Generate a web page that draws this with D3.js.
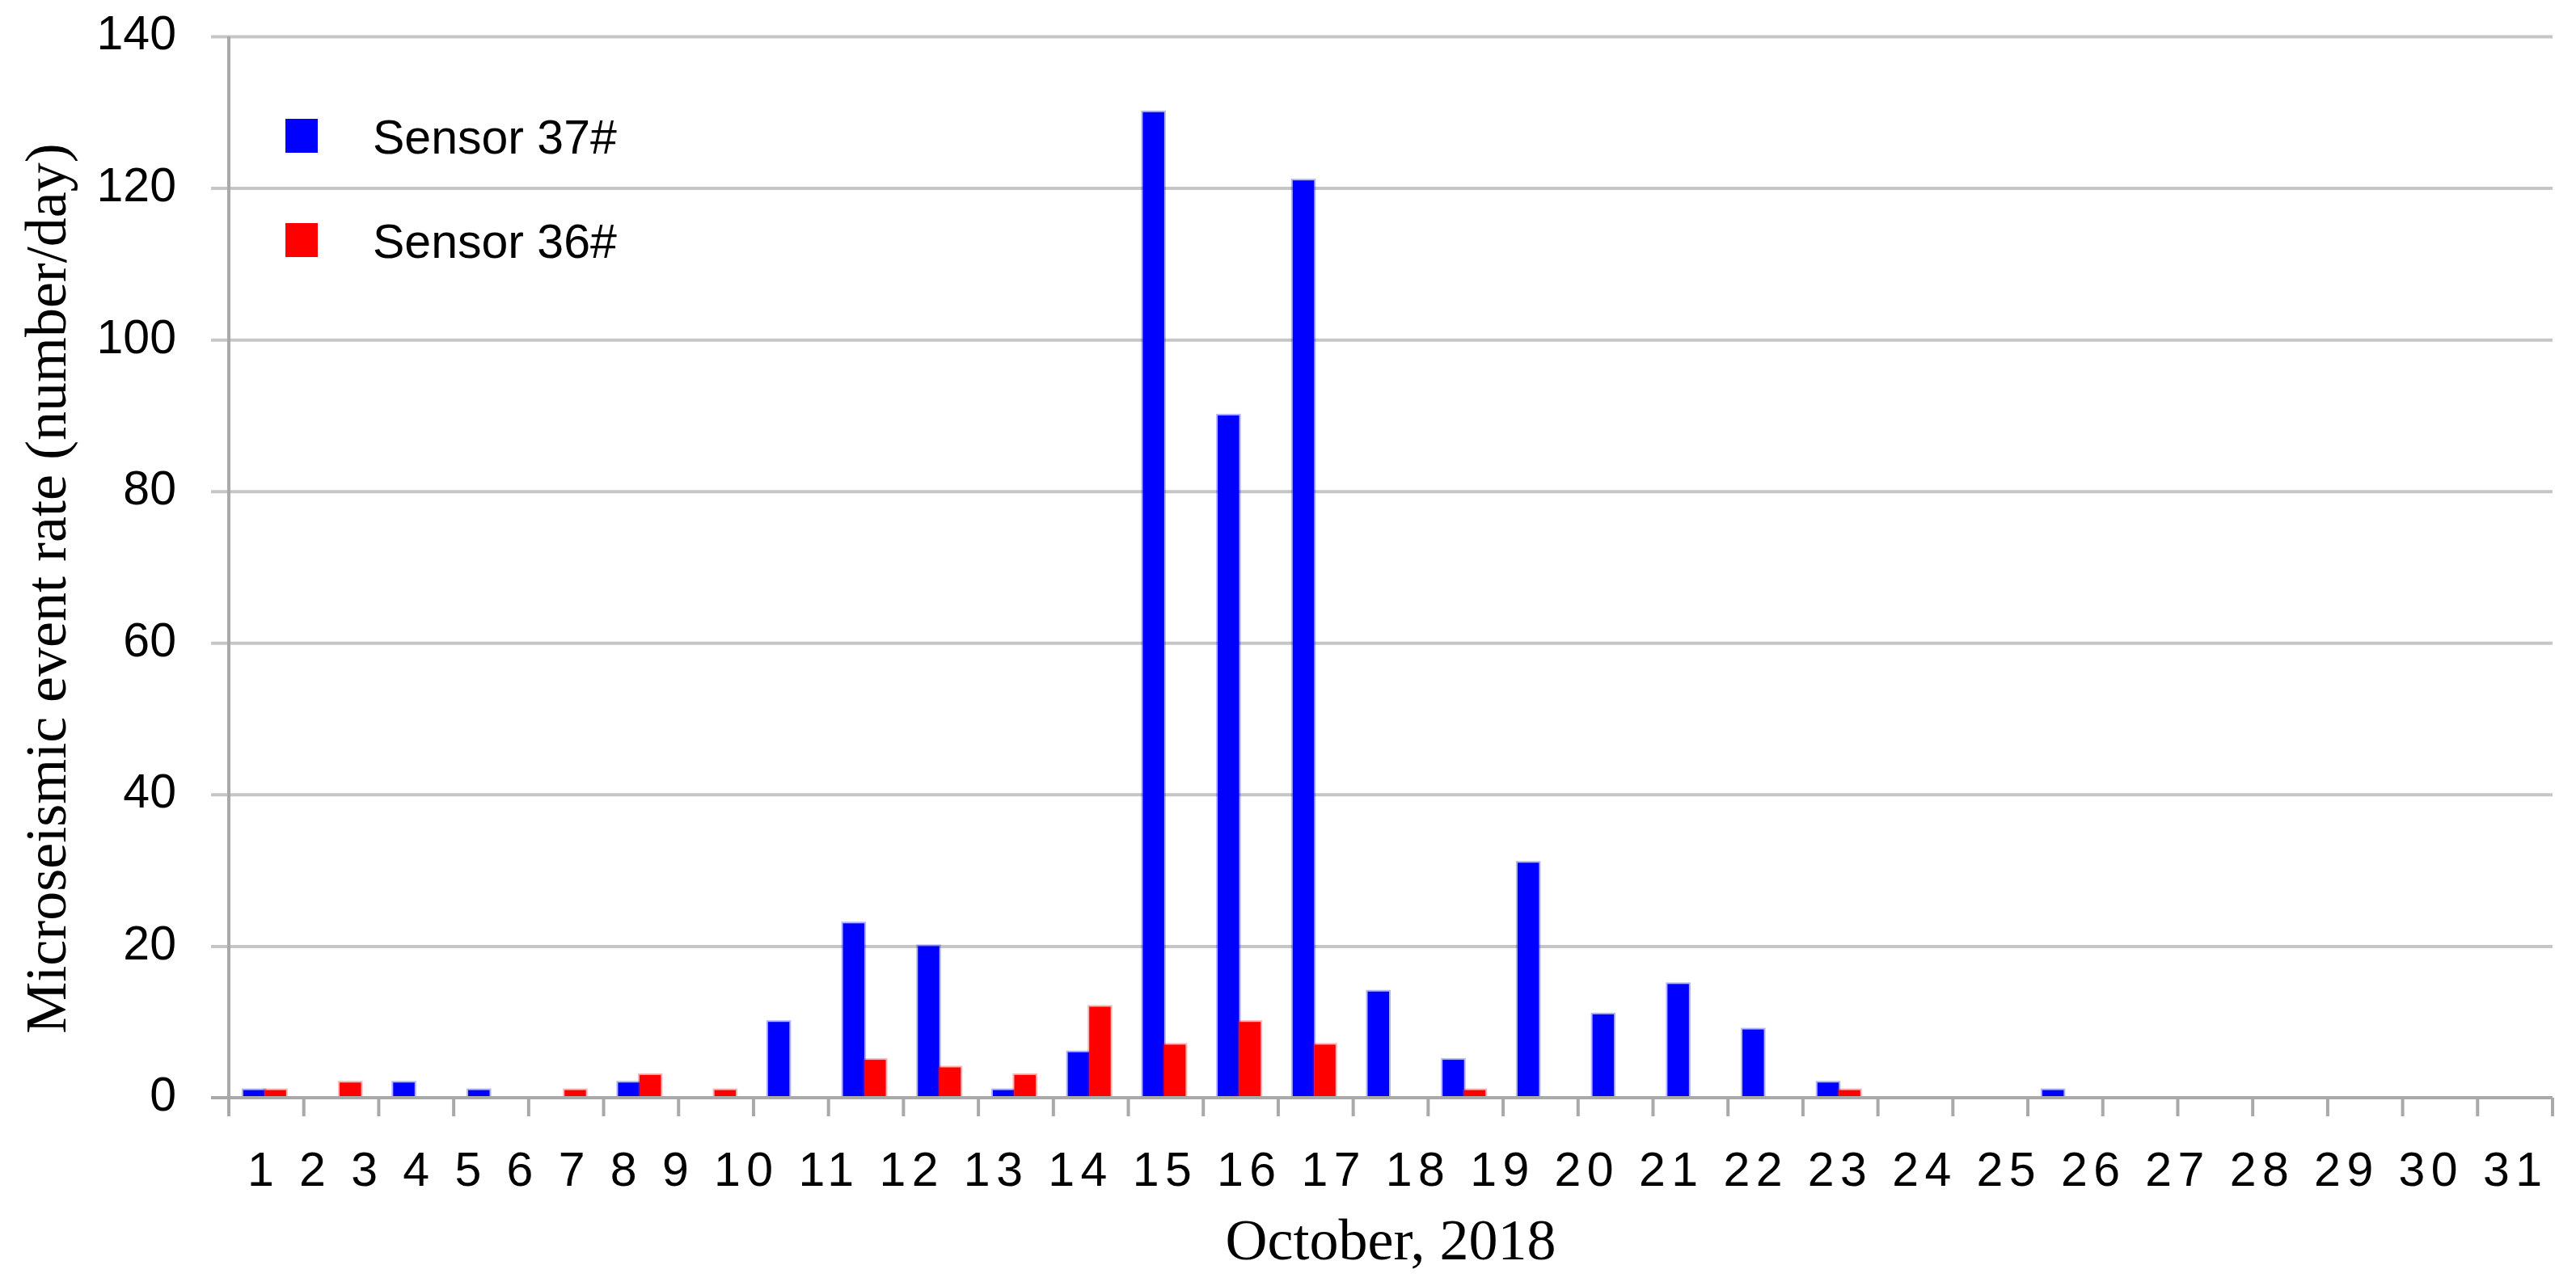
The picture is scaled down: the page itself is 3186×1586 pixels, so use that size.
<!DOCTYPE html>
<html>
<head>
<meta charset="utf-8">
<script src="https://d3js.org/d3.v7.min.js"></script>
<style>
  html, body { margin: 0; padding: 0; background: #fff; }
  svg { display: block; }
</style>
</head>
<body>
<svg width="3186" height="1586"></svg>
<script>
(() => {
    // one slot per day, labels as they appear under the axis
    const days = ["1", "2", "3", "4", "5", "6", "7", "8", "9", "10", "11", "12", "13", "14", "15", "16",
                  "17", "18", "19", "20", "21", "22", "23", "24", "25", "26", "27", "28", "29", "30", "31"];
    const sensor37 = [1, 0, 2, 1, 0, 2, 0, 10, 23, 20, 1, 6, 130, 90, 121, 14,
                      5, 31, 11, 15, 9, 2, 0, 0, 1, 0, 0, 0, 0, 0, 0];
    const sensor36 = [1, 2, 0, 0, 1, 3, 1, 0, 5, 4, 3, 12, 7, 10, 7, 0,
                      1, 0, 0, 0, 0, 1, 0, 0, 0, 0, 0, 0, 0, 0, 0];
    const seriesNames = ["Sensor 37#", "Sensor 36#"];
    const seriesColors = ["#0000ff", "#ff0000"];
    const yTicks = [0, 20, 40, 60, 80, 100, 120, 140];

    const margin = {top: 45, right: 29, bottom: 228, left: 283};
    const svg = d3.select("svg");
    const width = +svg.attr("width") - margin.left - margin.right;
    const height = +svg.attr("height") - margin.top - margin.bottom;
    const g = svg.append("g").attr("transform", "translate(" + margin.left + "," + margin.top + ")");

    const tickFont = "'Liberation Sans', Arial, sans-serif";
    const titleFont = "'Liberation Serif', 'Times New Roman', serif";
    const axisGrey = "#a9a9a9";

    const x0 = d3.scaleBand()
        .domain(days)
        .range([0, width])
        .padding(0);

    const x1 = d3.scaleBand()
        .domain(seriesNames)
        .range([0, x0.bandwidth()])
        .paddingInner(0)
        .paddingOuter(0.75)
        .align(0.45);

    const y = d3.scaleLinear()
        .domain([0, 140])
        .range([height, 0]);

    // gridlines (they also poke out left of the axis as ticks)
    g.append("g")
        .attr("class", "grid")
        .attr("transform", "translate(-22,0)")
        .call(d3.axisRight(y).tickValues(yTicks.slice(1)).tickSize(width + 22).tickFormat(""))
        .call(gr => gr.select(".domain").remove())
        .call(gr => gr.selectAll("line").attr("stroke", "#c6c6c6").attr("stroke-width", 4));

    // y axis labels
    g.append("g")
        .attr("class", "axis axis--y")
        .call(d3.axisLeft(y).tickValues(yTicks).tickSize(0).tickPadding(65))
        .call(ax => ax.select(".domain").remove())
        .call(ax => ax.selectAll("text")
            .attr("font-family", tickFont)
            .attr("font-size", 59)
            .attr("fill", "#000")
            .attr("dy", "0.27em"));

    // bars
    const rows = days.map((d, i) => ({day: d, values: [sensor37[i], sensor36[i]]}));

    g.append("g")
      .selectAll("g")
      .data(rows)
      .enter().append("g")
        .attr("transform", d => "translate(" + x0(d.day) + ",0)")
      .selectAll("rect")
      .data(d => d.values.map((v, k) => ({name: seriesNames[k], value: v, color: seriesColors[k]})))
      .enter().filter(d => d.value > 0).append("rect")
        .attr("x", d => x1(d.name))
        .attr("y", d => y(d.value))
        .attr("width", x1.bandwidth())
        .attr("height", d => height - y(d.value))
        .attr("fill", d => d.color)
        .attr("stroke", d => d.color)
        .attr("stroke-opacity", 0.3)
        .attr("stroke-width", 4);

    // axis lines and category boundary ticks
    const boundaries = days.map(d => x0(d)).concat([x0.range()[1]]);

    g.append("g")
        .attr("class", "x-ticks")
      .selectAll("line")
      .data(boundaries)
      .enter().append("line")
        .attr("x1", d => d)
        .attr("x2", d => d)
        .attr("y1", height)
        .attr("y2", height + 23)
        .attr("stroke", axisGrey)
        .attr("stroke-width", 4);

    g.append("line")
        .attr("x1", -22)
        .attr("x2", width)
        .attr("y1", height)
        .attr("y2", height)
        .attr("stroke", axisGrey)
        .attr("stroke-width", 4);

    g.append("line")
        .attr("x1", 0)
        .attr("x2", 0)
        .attr("y1", y(140))
        .attr("y2", height + 23)
        .attr("stroke", axisGrey)
        .attr("stroke-width", 4);

    // day labels run as one spaced line, the way the original lays them out
    g.append("text")
        .attr("class", "x-labels")
        .attr("x", x0(days[0]) + 23)
        .attr("y", height + 109)
        .attr("font-family", tickFont)
        .attr("font-size", 59)
        .attr("textLength", 2838)
        .attr("lengthAdjust", "spacing")
        .text(days.join(" "));

    // axis titles
    g.append("text")
        .attr("class", "label-x")
        .attr("x", width / 2)
        .attr("y", height + 200)
        .attr("text-anchor", "middle")
        .attr("font-family", titleFont)
        .attr("font-size", 72)
        .text("October, 2018");

    svg.append("text")
        .attr("class", "label-y")
        .attr("transform", "translate(81,728) rotate(-90)")
        .attr("text-anchor", "middle")
        .attr("font-family", titleFont)
        .attr("font-size", 72)
        .text("Microseismic event rate (number/day)");

    // legend
    const legend = g.append("g")
        .attr("class", "legend")
      .selectAll("g")
      .data(seriesNames)
      .enter().append("g")
        .attr("transform", (d, i) => "translate(70," + (102 + i * 129) + ")");

    legend.append("rect")
        .attr("width", 40)
        .attr("height", 42)
        .attr("fill", (d, i) => seriesColors[i]);

    legend.append("text")
        .attr("x", 108)
        .attr("y", 43)
        .attr("font-family", tickFont)
        .attr("font-size", 59)
        .text(d => d);
})();
</script>
</body>
</html>
